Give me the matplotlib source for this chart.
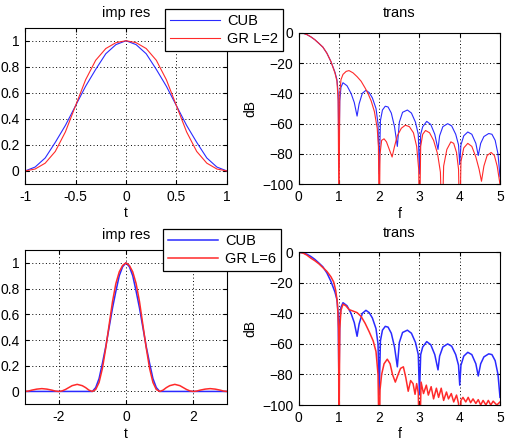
import numpy as np
import matplotlib
matplotlib.use('Agg')
import matplotlib.pyplot as plt

plt.rcParams['font.family'] = ['Liberation Sans', 'DejaVu Sans']
plt.rcParams['font.size'] = 10

################################################################################
### data
# impulse response, cubic kernel (zero outside [-1, 1])
t_cub = [-3, -1, -0.9, -0.8, -0.7, -0.6, -0.5, -0.4, -0.3, -0.2, -0.1, 0,
         0.1, 0.2, 0.3, 0.4, 0.5, 0.6, 0.7, 0.8, 0.9, 1, 3]
h_cub = [0, 0, 0.03, 0.10, 0.22, 0.35, 0.5, 0.65, 0.78, 0.90, 0.97, 1,
         0.97, 0.90, 0.78, 0.65, 0.5, 0.35, 0.22, 0.10, 0.03, 0, 0]

# impulse response, GR L=2
t_gr2 = [-1, -0.9, -0.8, -0.7, -0.6, -0.5, -0.4, -0.3, -0.2, -0.1, 0,
         0.1, 0.2, 0.3, 0.4, 0.5, 0.6, 0.7, 0.8, 0.9, 1]
h_gr2 = [0, 0.015, 0.06, 0.15, 0.30, 0.5, 0.70, 0.85, 0.94, 0.985, 1,
         0.985, 0.94, 0.85, 0.70, 0.5, 0.30, 0.15, 0.06, 0.015, 0]

# impulse response, GR L=6
t_gr6 = [-3, -2.9, -2.8, -2.65, -2.5, -2.35, -2.2, -2.1, -2, -1.9, -1.8, -1.7,
         -1.6, -1.45, -1.3, -1.2, -1.1, -1, -0.9, -0.8, -0.7, -0.6, -0.5,
         -0.4, -0.3, -0.2, -0.1, 0, 0.1, 0.2, 0.3, 0.4, 0.5, 0.6, 0.7, 0.8,
         0.9, 1, 1.1, 1.2, 1.3, 1.45, 1.6, 1.7, 1.8, 1.9, 2, 2.1, 2.2, 2.35,
         2.5, 2.65, 2.8, 2.9, 3]
h_gr6 = [0, 0.003, 0.01, 0.018, 0.022, 0.018, 0.01, 0.003, 0, 0.004, 0.015,
         0.03, 0.045, 0.055, 0.045, 0.03, 0.01, 0, 0.015, 0.07, 0.18, 0.34,
         0.52, 0.70, 0.84, 0.93, 0.98, 1, 0.98, 0.93, 0.84, 0.70, 0.52, 0.34,
         0.18, 0.07, 0.015, 0, 0.01, 0.03, 0.045, 0.055, 0.045, 0.03, 0.015,
         0.004, 0, 0.003, 0.01, 0.018, 0.022, 0.018, 0.01, 0.003, 0]

# transfer function [dB], cubic kernel
f_cub = [0, 0.1, 0.2, 0.3, 0.4, 0.5, 0.6, 0.7, 0.8, 0.9, 0.95, 0.98, 1.0,
         1.02, 1.05, 1.1, 1.2, 1.3, 1.38, 1.45, 1.5, 1.58, 1.67, 1.75, 1.83,
         1.92, 1.97, 2.0, 2.03, 2.08, 2.15, 2.22, 2.3, 2.38, 2.45, 2.5, 2.58,
         2.7, 2.8, 2.9, 2.97, 3.0, 3.03, 3.08, 3.18, 3.28, 3.38, 3.46, 3.5,
         3.58, 3.7, 3.8, 3.9, 3.97, 4.0, 4.03, 4.1, 4.2, 4.3, 4.4, 4.46, 4.52,
         4.6, 4.72, 4.8, 4.88, 4.95, 5.0]
H_cub = [0, -0.3, -1.2, -2.7, -4.6, -7, -9.5, -13.5, -19, -26, -31, -40, -88,
         -45, -36, -33, -35, -40, -46, -55, -47, -40, -38, -39.5, -43,
         -50, -60, -93, -58, -51, -48.5, -49, -53, -62, -75, -59, -52.5,
         -51, -53, -59, -67, -93, -67, -62, -58.5, -60.5, -67, -77, -68,
         -62, -60, -61.5, -67, -74, -87, -74, -68, -65.5, -67, -73, -81, -73,
         -68.5, -66.5, -67, -71, -80, -95]

# transfer function [dB], GR L=2
f_gr2 = [0, 0.1, 0.2, 0.3, 0.4, 0.5, 0.6, 0.7, 0.8, 0.9, 0.95, 0.98, 1.0,
         1.02, 1.05, 1.1, 1.18, 1.25, 1.35, 1.45, 1.55, 1.65, 1.72, 1.8, 1.88,
         1.95, 1.98, 2.0, 2.02, 2.06, 2.12, 2.18, 2.25, 2.32, 2.38, 2.45, 2.55,
         2.65, 2.75, 2.85, 2.93, 2.98, 3.0, 3.03, 3.08, 3.15, 3.25, 3.35, 3.45,
         3.52, 3.56, 3.6, 3.68, 3.78, 3.85, 3.92, 3.97, 4.0, 4.03, 4.1, 4.2,
         4.3, 4.4, 4.48, 4.54, 4.6, 4.68, 4.78, 4.86, 4.93, 5.0]
H_gr2 = [0, -0.3, -1.2, -2.7, -4.6, -7, -9.5, -13.5, -19, -26.5, -32, -45, -130,
         -40, -31, -27.5, -25.5, -25, -26.5, -29, -32, -36.5, -40, -45, -52,
         -63, -75, -130, -80, -71, -70, -72, -77, -82, -75, -68, -63,
         -61, -62, -66, -75, -90, -130, -75, -67, -64.5, -66, -71, -80,
         -92, -130, -88, -77, -72, -73, -79, -90, -130, -85, -76, -73,
         -75, -82, -90, -98, -88, -81, -79, -81, -88, -100]

# transfer function [dB], GR L=6
f_gr6 = [0, 0.1, 0.2, 0.3, 0.4, 0.5, 0.6, 0.7, 0.8, 0.87, 0.92, 0.96, 0.99,
         1.0, 1.02, 1.05, 1.1, 1.17, 1.25, 1.35, 1.45, 1.55, 1.65, 1.75, 1.85,
         1.92, 1.97, 2.0, 2.02, 2.06, 2.12, 2.2, 2.27, 2.33, 2.4, 2.47, 2.53,
         2.6, 2.66, 2.72, 2.78, 2.84, 2.89, 2.93, 2.97, 3.0, 3.04, 3.1, 3.17,
         3.22, 3.29, 3.35, 3.42, 3.475, 3.54, 3.6, 3.67, 3.72, 3.79, 3.85,
         3.92, 3.97, 4.0, 4.03, 4.08, 4.15, 4.21, 4.27, 4.33, 4.4, 4.46, 4.52,
         4.58, 4.65, 4.71, 4.77, 4.83, 4.92, 5.0]
H_gr6 = [0, -0.4, -1.8, -3.8, -5.5, -7.5, -10, -12.5, -16, -19.5, -25, -33, -50,
         -130, -50, -38, -34, -35, -37.5, -38.5, -39.5, -42, -46.5, -52, -58,
         -65, -80, -130, -90, -80, -73, -70, -73, -80, -85, -80, -76,
         -75, -82, -91, -84, -86, -93, -86, -92, -130, -85, -92.5, -87,
         -93.5, -88, -96, -89, -95, -89, -97, -91.5, -96, -92.5, -98,
         -93.5, -99, -130, -97, -95, -98, -95, -98.5, -96, -99, -96.5, -100,
         -97, -100, -97, -100, -97.5, -100, -98]

################################################################################
### helpers
W, H = 507, 444

def box(x0, y0, x1, y1):
    # pixel box (top-left origin) -> figure fraction rect
    return [x0 / W, 1 - y1 / H, (x1 - x0) / W, (y1 - y0) / H]

def style(ax):
    ax.grid(True, color='k', linestyle=(0, (1, 2.5)), linewidth=0.7)
    ax.tick_params(direction='in', length=3, top=True, right=True,
                   labelsize=10, pad=4)
    for s in ax.spines.values():
        s.set_linewidth(0.8)

fig = plt.figure(figsize=(W / 100, H / 100), dpi=100)

rows = [(27.7, 184, 32.7, 184.3, t_gr2, h_gr2, f_gr2, H_gr2, 'GR L=2',
         [-1, 1], [-1, -0.5, 0, 0.5, 1], (9, 165), 0.8),
        (250, 404.3, 252.3, 405, t_gr6, h_gr6, f_gr6, H_gr6, 'GR L=6',
         [-3, 3], [-2, 0, 2], (229, 163), 1.1)]

for (ly0, ly1, ry0, ry1, tg, hg, fg, Hg, lab, xl, xt, lpos, lw) in rows:
    ax = fig.add_axes(box(25, ly0, 227, ly1))
    l1, = ax.plot(t_cub, h_cub, color='#2a2aff', lw=lw)
    l2, = ax.plot(tg, hg, color='#ff2a2a', lw=lw)
    ax.set_xlim(xl)
    ax.set_xticks(xt)
    ax.set_xticklabels([('%g' % v) for v in xt])
    ax.set_ylim(-0.1, 1.1)
    ax.set_yticks([0, 0.2, 0.4, 0.6, 0.8, 1])
    ax.set_yticklabels(['0', '0.2', '0.4', '0.6', '0.8', '1'])
    ax.set_title('imp res', fontsize=10.5, pad=8)
    ax.set_xlabel('t', labelpad=2)
    style(ax)
    leg = ax.legend([l1, l2], ['CUB', lab], loc='upper left',
                    bbox_to_anchor=(lpos[1] / W, 1 - lpos[0] / H),
                    bbox_transform=fig.transFigure, borderaxespad=0,
                    fancybox=False, edgecolor='k', framealpha=1,
                    handlelength=3.4, handletextpad=0.5, borderpad=0.35,
                    labelspacing=0.25, fontsize=10.5)
    leg.get_frame().set_linewidth(0.9)
    leg.set_zorder(10)

    ax2 = fig.add_axes(box(298.7, ry0, 500, ry1))
    ax2.plot(f_cub, H_cub, color='#2a2aff', lw=lw)
    ax2.plot(fg, Hg, color='#ff2a2a', lw=lw)
    ax2.set_xlim(0, 5)
    ax2.set_ylim(-100, 0)
    ax2.set_xticks([0, 1, 2, 3, 4, 5])
    ax2.set_yticks([-100, -80, -60, -40, -20, 0])
    ax2.set_title('trans', fontsize=10.5, pad=11)
    ax2.set_xlabel('f', labelpad=2)
    ax2.set_ylabel('dB', labelpad=3)
    style(ax2)

plt.savefig('out.png', dpi=100)
